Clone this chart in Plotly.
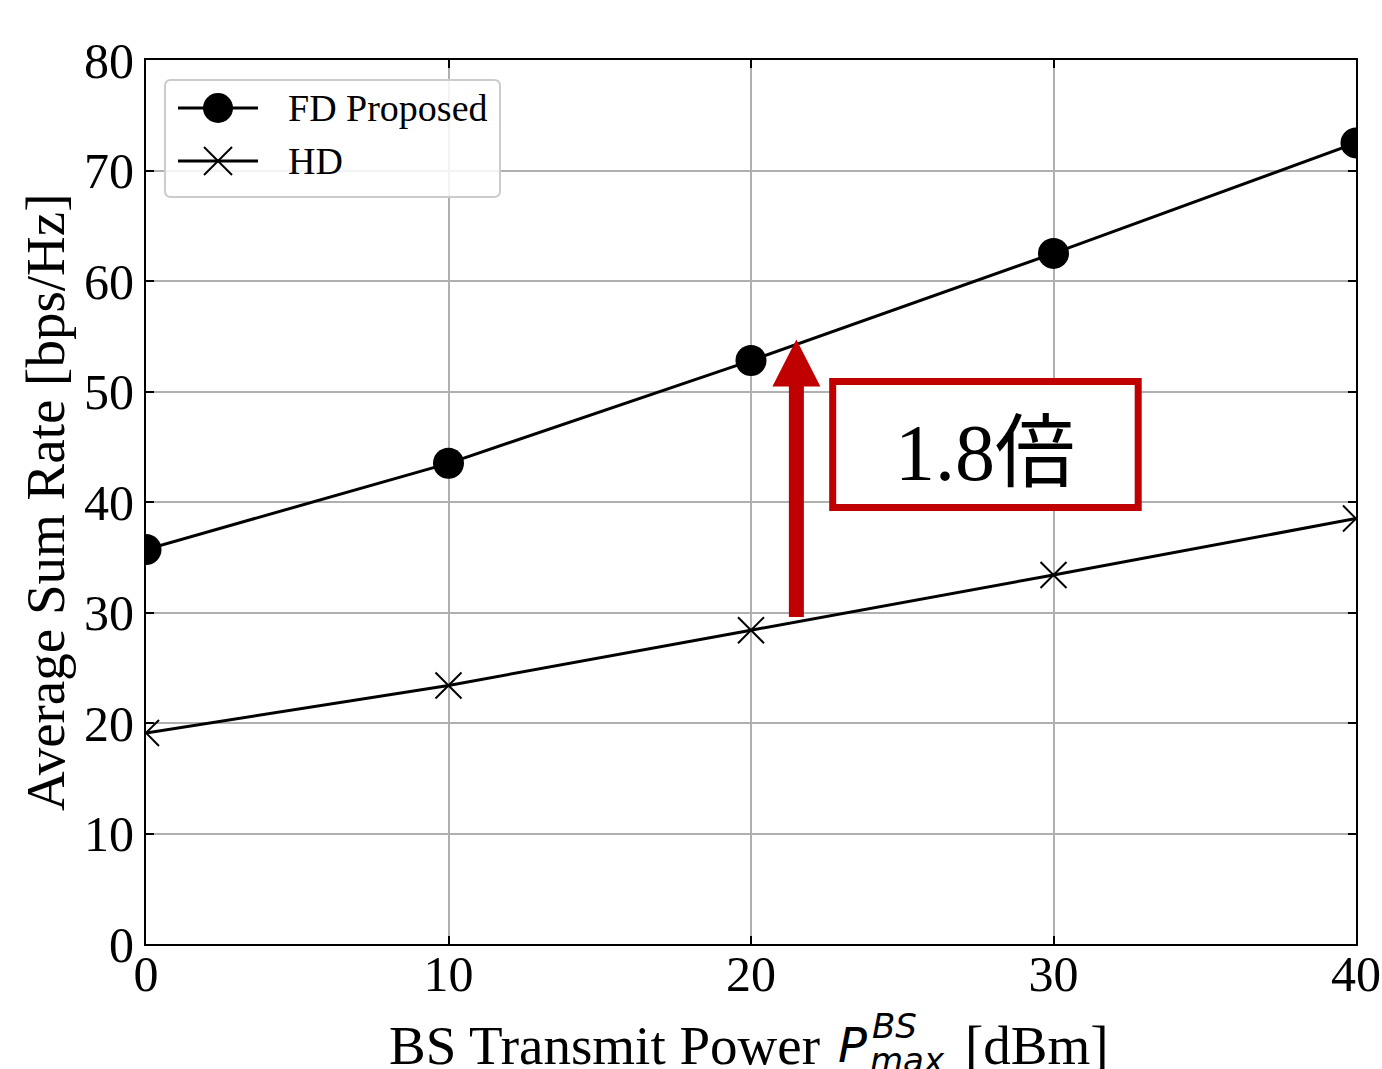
import plotly.graph_objects as go

# ---- data ----
power_dbm = [0, 10, 20, 30, 40]
fd_proposed = [35.7, 43.5, 52.8, 62.5, 72.5]
hd = [19.1, 23.4, 28.4, 33.4, 38.5]
x_ticks = [0, 10, 20, 30, 40]
y_ticks = [0, 10, 20, 30, 40, 50, 60, 70, 80]
series_names = ["FD Proposed", "HD"]

# annotation geometry (data units)
arrow_x = 21.5
arrow_y_tail = 29.6
arrow_y_tip = 54.7
box_x = [22.7, 32.8]
box_y = [39.5, 50.9]
ratio_label = "1.8倍"

RED = "#c00000"
SERIF = "Liberation Serif, Times New Roman, serif"

OFF = 0  # body margin removed via post_script
W, H = 1382, 1069
L, T = 146, 60
PW, PH = 1210, 884
R, B = W - L - PW, H - T - PH

fig = go.Figure()
fig.add_trace(go.Scatter(
    x=power_dbm, y=fd_proposed, mode="lines+markers", name=series_names[0],
    line=dict(color="black", width=3),
    marker=dict(symbol="circle", size=31, color="black"),
    showlegend=False,
))
fig.add_trace(go.Scatter(
    x=power_dbm, y=hd, mode="lines+markers", name=series_names[1],
    line=dict(color="black", width=3),
    marker=dict(symbol="x-thin", size=26, color="black",
                line=dict(color="black", width=2)),
    showlegend=False,
))

# red arrow (shaft + head) as path
sx = 7.5 * 40 / PW
hx = 24 * 40 / PW
hl = 47 * 80 / PH
yb = arrow_y_tip - hl
path = (f"M {arrow_x - sx} {arrow_y_tail} L {arrow_x + sx} {arrow_y_tail} "
        f"L {arrow_x + sx} {yb} L {arrow_x + hx} {yb} L {arrow_x} {arrow_y_tip} "
        f"L {arrow_x - hx} {yb} L {arrow_x - sx} {yb} Z")
fig.add_shape(type="path", path=path, xref="x", yref="y",
              fillcolor=RED, line=dict(width=0))
fig.add_shape(type="rect", xref="x", yref="y",
              x0=box_x[0], x1=box_x[1], y0=box_y[0], y1=box_y[1],
              line=dict(color=RED, width=7), fillcolor="white")
fig.add_annotation(
    x=sum(box_x) / 2, y=sum(box_y) / 2, xref="x", yref="y",
    xanchor="center", yanchor="middle",
    text=f"<span style='font-family:Liberation Serif'>{ratio_label[:-1]}</span>"
         f"<span style='font-family:Noto Sans CJK JP'>{ratio_label[-1]}</span>",
    showarrow=False, font=dict(size=80, color="black"),
)

def pp(px, py):
    """screen pixel -> paper coords"""
    return (px - OFF - L) / PW, (T + PH - (py - OFF)) / PH

# ---- custom legend (paper coords) ----
bx0, by0 = pp(165, 197)
bx1, by1 = pp(500, 80)
rx, ry = 6 / PW, 6 / PH
legend_path = (f"M {bx0+rx} {by0} L {bx1-rx} {by0} Q {bx1} {by0} {bx1} {by0+ry} "
               f"L {bx1} {by1-ry} Q {bx1} {by1} {bx1-rx} {by1} "
               f"L {bx0+rx} {by1} Q {bx0} {by1} {bx0} {by1-ry} "
               f"L {bx0} {by0+ry} Q {bx0} {by0} {bx0+rx} {by0} Z")
fig.add_shape(type="path", path=legend_path, xref="paper", yref="paper",
              fillcolor="rgba(255,255,255,0.85)", line=dict(color="#cccccc", width=2))
rows = [108, 161]
for i, row in enumerate(rows):
    lx0, ly = pp(178, row)
    lx1, _ = pp(258, row)
    fig.add_shape(type="line", xref="paper", yref="paper",
                  x0=lx0, x1=lx1, y0=ly, y1=ly, line=dict(color="black", width=3))
    tx, ty = pp(286, row)
    fig.add_annotation(x=tx, y=ty, xref="paper", yref="paper",
                       xanchor="left", yanchor="middle", text=series_names[i],
                       showarrow=False, font=dict(family=SERIF, size=38, color="black"))
cx0, cy0 = pp(203, 123)
cx1, cy1 = pp(233, 93)
fig.add_shape(type="circle", xref="paper", yref="paper",
              x0=cx0, x1=cx1, y0=cy0, y1=cy1, fillcolor="black", line=dict(width=0))
for (a, b, c, d) in [(204, 147, 232, 175), (204, 175, 232, 147)]:
    x0_, y0_ = pp(a, b)
    x1_, y1_ = pp(c, d)
    fig.add_shape(type="line", xref="paper", yref="paper",
                  x0=x0_, y0=y0_, x1=x1_, y1=y1_, line=dict(color="black", width=2))

# y-axis title
ax_, ay_ = pp(45, 502)
fig.add_annotation(x=ax_, y=ay_, xref="paper", yref="paper",
                   xanchor="center", yanchor="middle",
                   text="Average Sum Rate [bps/Hz]", textangle=-90,
                   showarrow=False, font=dict(family=SERIF, size=55, color="black"))

# x-axis title pieces
ty_main = 1045
bx, by = pp(822, ty_main)
fig.add_annotation(x=bx, y=by, xref="paper", yref="paper", xanchor="right", yanchor="middle",
                   text="BS Transmit Power", showarrow=False,
                   font=dict(family=SERIF, size=55, color="black"))
px_, py_ = pp(852, ty_main)
fig.add_annotation(x=px_, y=py_, xref="paper", yref="paper", xanchor="center", yanchor="middle",
                   text="<i>P</i>", showarrow=False,
                   font=dict(family="DejaVu Sans", size=48, color="black"))
sx_, sy_ = pp(870, 1026)
fig.add_annotation(x=sx_, y=sy_, xref="paper", yref="paper", xanchor="left", yanchor="middle",
                   text="<i>BS</i>", showarrow=False,
                   font=dict(family="DejaVu Sans", size=34, color="black"))
mx_, my_ = pp(868, 1060)
fig.add_annotation(x=mx_, y=my_, xref="paper", yref="paper", xanchor="left", yanchor="middle",
                   text="<i>max</i>", showarrow=False,
                   font=dict(family="DejaVu Sans", size=34, color="black"))
dx_, dy_ = pp(963, ty_main)
fig.add_annotation(x=dx_, y=dy_, xref="paper", yref="paper", xanchor="left", yanchor="middle",
                   text="[dBm]", showarrow=False,
                   font=dict(family=SERIF, size=55, color="black"))

axis_common = dict(
    showline=True, linecolor="black", linewidth=2, mirror="ticks",
    ticks="inside", ticklen=8, tickwidth=2, tickcolor="black",
    showgrid=True, gridcolor="#b0b0b0", gridwidth=2,
    zeroline=False, automargin=False,
    tickfont=dict(family=SERIF, size=50, color="black"),
)
fig.update_xaxes(range=[0, 40], tickvals=x_ticks, ticklabelstandoff=-15, **axis_common)
fig.update_yaxes(range=[0, 80], tickvals=y_ticks, **axis_common)

fig.update_layout(
    width=W, height=H,
    margin=dict(l=L, r=R, t=T, b=B),
    plot_bgcolor="white", paper_bgcolor="white",
    showlegend=False,
)

fig.write_html(
    "out.html",
    config={"displayModeBar": False},
    post_script="document.body.style.margin='0';document.body.style.overflow='hidden';",
)
